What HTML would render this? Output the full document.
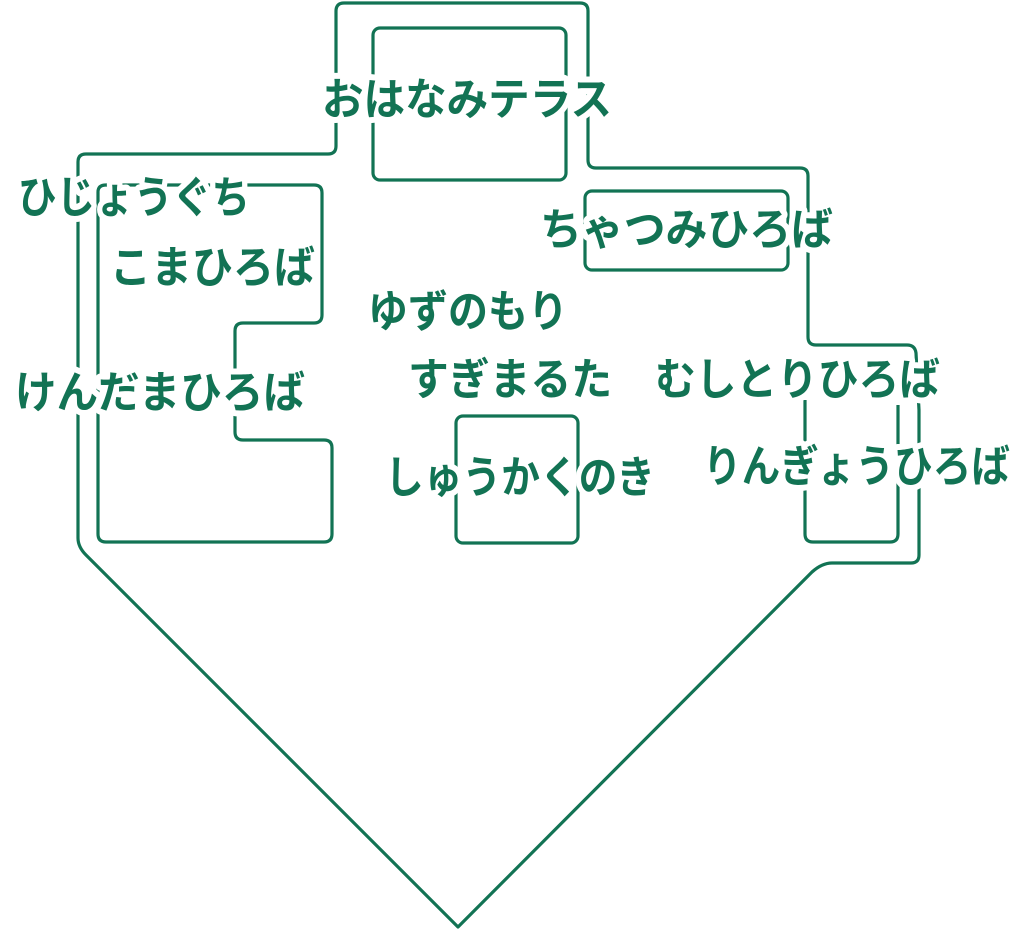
<!DOCTYPE html>
<html><head><meta charset="utf-8"><style>
html,body{margin:0;padding:0;background:#fff;}
svg{display:block}
text{font-family:"Liberation Sans","Noto Sans CJK JP",sans-serif;font-weight:700;font-size:44px;fill:#127354;stroke:#fff;stroke-width:12px;stroke-linejoin:round;paint-order:stroke;dominant-baseline:central}
</style></head><body>
<svg width="1024" height="931" viewBox="0 0 1024 931" xmlns="http://www.w3.org/2000/svg">
<g fill="none" stroke="#127354" stroke-width="3.2" stroke-linejoin="round">
<path d="M458,927 L86,555 Q78,547 78,538 L78,162 Q78,154 86,154 L328,154 Q336,154 336,146 L336,11 Q336,3 344,3 L580,3 Q588,3 588,11 L588,160 Q588,168 596,168 L800,168 Q808,168 808,176 L808,337 Q808,345 816,345 L907,345 Q915,345 916,353 L919,410 L919,555 Q919,563 911,563 L832,563 Q822,563 812,572 Z"/>
<rect x="373" y="28" width="193" height="152" rx="7"/>
<rect x="585" y="191" width="203" height="79" rx="7"/>
<rect x="456" y="416" width="122" height="127" rx="7"/>
<path d="M805,400 L805,534 Q805,542 813,542 L890,542 Q898,542 898,534 L898,405"/>
<path d="M98,192 L98,534 Q98,542 106,542 L324,542 Q332,542 332,534 L332,448 Q332,440 324,440 L243,440 Q235,440 235,432 L235,331 Q235,323 243,323 L314,323 Q322,323 322,315 L322,193 Q322,185 314,185 L106,185 Q98,185 98,192 Z"/>
</g>
<text x="322" y="100" textLength="290" lengthAdjust="spacingAndGlyphs">おはなみテラス</text>
<text x="18" y="198" textLength="232" lengthAdjust="spacingAndGlyphs">ひじょうぐち</text>
<text x="110" y="268" textLength="205" lengthAdjust="spacingAndGlyphs">こまひろば</text>
<text x="540" y="230" textLength="293" lengthAdjust="spacingAndGlyphs">ちゃつみひろば</text>
<text x="368" y="312" textLength="200" lengthAdjust="spacingAndGlyphs">ゆずのもり</text>
<text x="15" y="393" textLength="290" lengthAdjust="spacingAndGlyphs">けんだまひろば</text>
<text x="408" y="380" textLength="204" lengthAdjust="spacingAndGlyphs">すぎまるた</text>
<text x="655" y="380" textLength="285" lengthAdjust="spacingAndGlyphs">むしとりひろば</text>
<text x="385" y="478" textLength="270" lengthAdjust="spacingAndGlyphs">しゅうかくのき</text>
<text x="703" y="467" textLength="307" lengthAdjust="spacingAndGlyphs">りんぎょうひろば</text>
</svg>
</body></html>
